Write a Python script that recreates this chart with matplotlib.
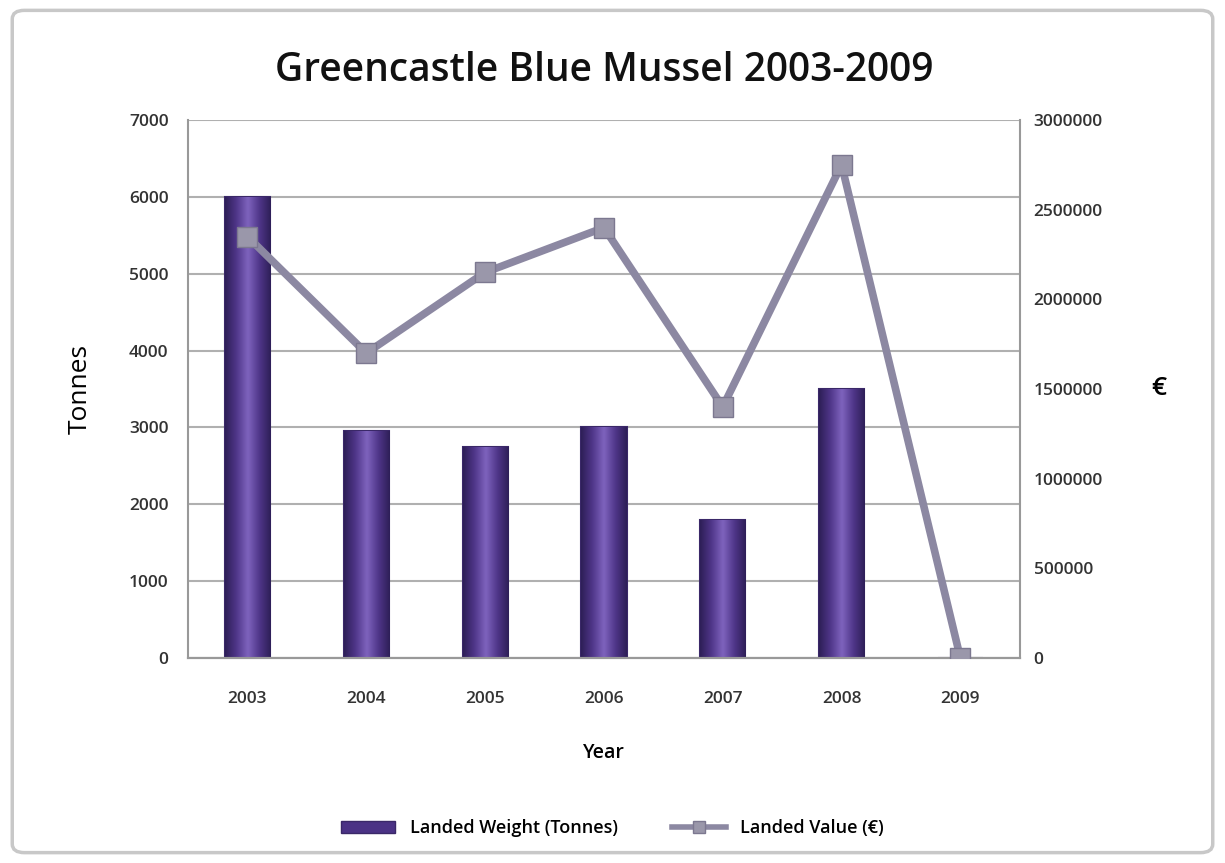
import matplotlib.pyplot as plt
from matplotlib.patches import FancyBboxPatch
from matplotlib.lines import Line2D
from matplotlib.patches import Patch
import numpy as np

# 年份与数据
years = ['2003', '2004', '2005', '2006', '2007', '2008', '2009']
weight_tonnes = [6000, 2950, 2750, 3000, 1800, 3500, 0]
value_euro = [2350000, 1700000, 2150000, 2400000, 1400000, 2750000, 0]

plt.rcParams['font.family'] = ['Open Sans', 'DejaVu Sans']

fig = plt.figure(figsize=(12.25, 8.63), dpi=100)
ax = fig.add_axes([0.1535, 0.2375, 0.679, 0.6235])
ax2 = ax.twinx()

# 外框
frame = FancyBboxPatch((0.01, 0.012), 0.98, 0.976, boxstyle='round,pad=0,rounding_size=0.01',
                       transform=fig.transFigure, facecolor='white', edgecolor='#c8c8c8',
                       linewidth=2.5, zorder=-10)
fig.patches.append(frame)

x = np.arange(len(years))
bar_w = 0.38
bars = ax.bar(x, weight_tonnes, width=bar_w, color='#5a3f98', edgecolor='#3a2868',
              linewidth=1.5, zorder=2)

# 柱子的横向渐变
grad = np.abs(np.linspace(-1, 1, 64))
grad = np.vstack([grad, grad])
cmap = plt.matplotlib.colors.LinearSegmentedColormap.from_list('pg', ['#7d62bc', '#4f3689', '#2e1f58'])
for b in bars:
    h = b.get_height()
    if h <= 0:
        continue
    x0 = b.get_x()
    im = ax.imshow(grad, cmap=cmap, aspect='auto', extent=[x0, x0 + bar_w, 0, h],
                   zorder=2.5, interpolation='bicubic')
    im.set_clip_path(b)

ax.set_xlim(-0.5, len(years) - 0.5)
ax.set_ylim(0, 7000)
ax.set_yticks(np.arange(0, 7001, 1000))
ax.set_xticks(x)
ax.set_xticklabels(years)
ax.grid(axis='y', color='#b0b0b0', linewidth=1.5, zorder=0)
ax.set_axisbelow(True)

ax2.plot(x, value_euro, color='#8c88a2', linewidth=5.5, marker='s', markersize=15,
         markerfacecolor='#9a97aa', markeredgecolor='#7c7890', zorder=3)
ax2.set_ylim(0, 3000000)
ax2.set_yticks(np.arange(0, 3000001, 500000))
ax2.set_yticklabels([str(v) for v in range(0, 3000001, 500000)])
ax.set_zorder(1)
ax2.set_zorder(2)
ax.patch.set_visible(False)

for a in (ax, ax2):
    for s in ('top', 'left', 'right'):
        a.spines[s].set_visible(False)
    a.spines['bottom'].set_color('#999999')
    a.spines['bottom'].set_linewidth(1.5)
    a.tick_params(length=0, labelsize=12.5, colors='#333333', pad=14)
    for lab in a.get_xticklabels() + a.get_yticklabels():
        lab.set_fontweight('semibold')
ax2.spines['right'].set_visible(True)
ax2.spines['right'].set_color('#999999')
ax2.spines['right'].set_linewidth(1.5)
ax.spines['left'].set_visible(True)
ax.spines['left'].set_color('#999999')
ax.spines['left'].set_linewidth(1.5)
ax.tick_params(axis='x', pad=24)
ax2.tick_params(axis='y', pad=10)

ax.set_title('Greencastle Blue Mussel 2003-2009', fontsize=28, pad=28, color='#111111',
             fontweight='semibold')
ax.set_ylabel('Tonnes', fontsize=19, labelpad=26)
ax2.set_ylabel('€', fontsize=19, rotation=0, labelpad=40, va='center', fontweight='semibold')
ax.set_xlabel('Year', fontsize=14, labelpad=26, fontweight='semibold')

handles = [Patch(facecolor='#4b3285', edgecolor='#3a2868'),
           Line2D([0], [0], color='#8c88a2', linewidth=4, marker='s', markersize=8,
                  markerfacecolor='#9a97aa', markeredgecolor='#7c7890')]
leg = fig.legend(handles, ['Landed Weight (Tonnes)', 'Landed Value (€)'], loc='center',
                 bbox_to_anchor=(0.5, 0.04), ncol=2, frameon=False, fontsize=13,
                 handlelength=3, columnspacing=3,
                 prop={'weight': 'semibold', 'size': 13})

fig.savefig('out.png', dpi=100)
